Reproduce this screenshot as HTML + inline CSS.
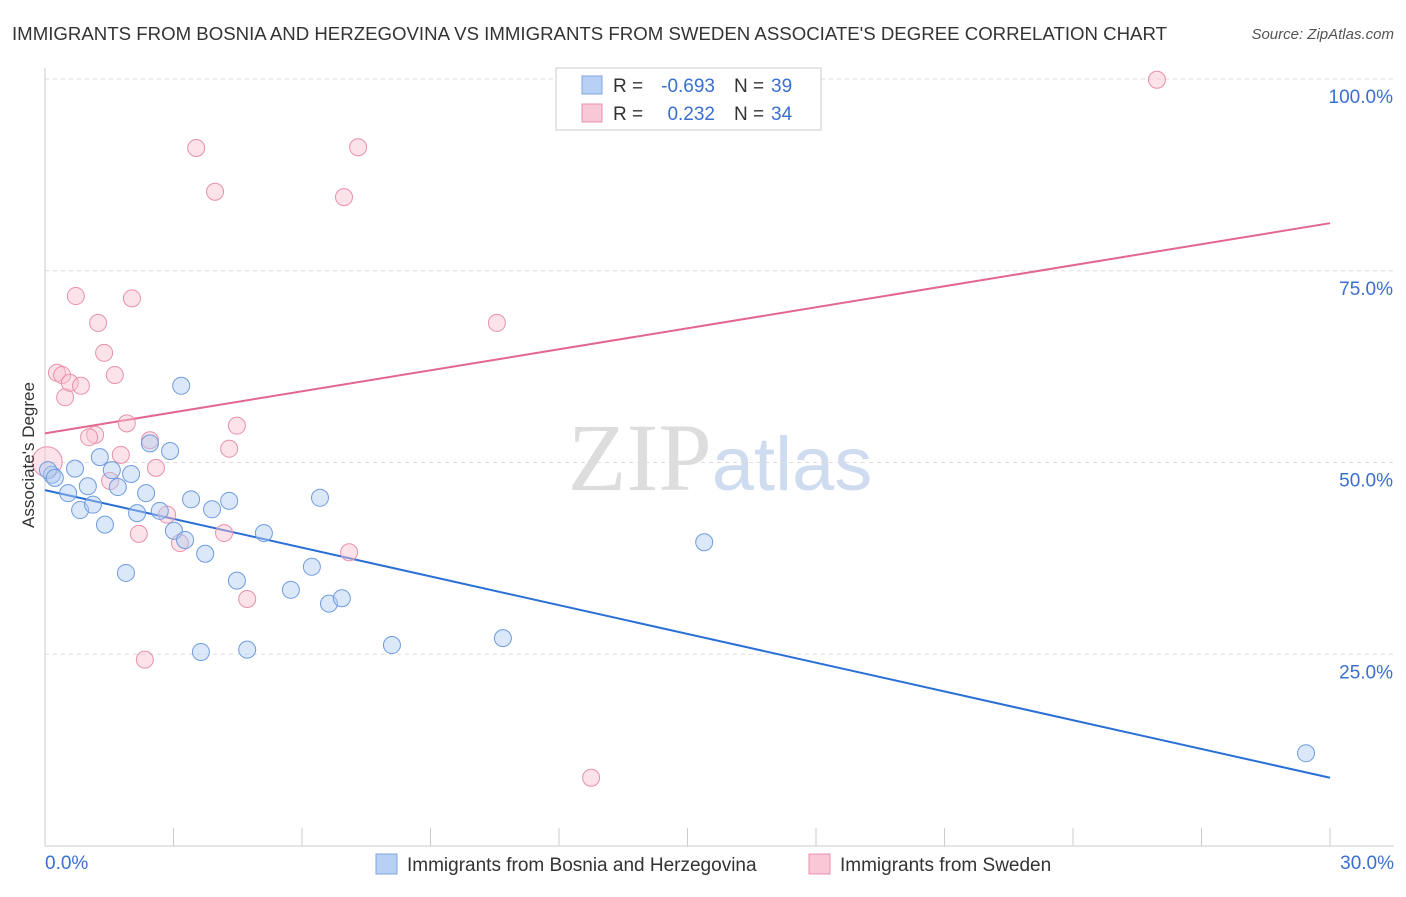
<!DOCTYPE html>
<html><head><meta charset="utf-8"><style>
body{margin:0;background:#fff;font-family:"Liberation Sans",sans-serif;}
</style></head><body>
<svg id="chart" width="1406" height="892" xmlns="http://www.w3.org/2000/svg" font-family="Liberation Sans, sans-serif">
<text x="12" y="40" font-size="18" fill="#333" textLength="1155" lengthAdjust="spacingAndGlyphs">IMMIGRANTS FROM BOSNIA AND HERZEGOVINA VS IMMIGRANTS FROM SWEDEN ASSOCIATE'S DEGREE CORRELATION CHART</text>
<text x="1394" y="39" font-size="15" fill="#555" text-anchor="end" font-style="italic">Source: ZipAtlas.com</text>
<text x="720" y="490" font-size="96" text-anchor="middle" fill="#ddd" font-family="Liberation Serif, serif">ZIP<tspan fill="#cfdcf0" font-family="Liberation Sans, sans-serif" font-size="76">atlas</tspan></text>
<g id="grid"></g><g id="axes"></g><g id="lines"></g><g id="pts"></g>
<text transform="translate(34,455) rotate(-90)" font-size="17" fill="#333" text-anchor="middle">Associate's Degree</text>
<g>
<rect x="556" y="68" width="265" height="62" fill="#fff" stroke="#ccc"/>
<rect x="582" y="76" width="20" height="18" fill="#b8d0f4" stroke="#7fa6e0"/>
<rect x="582" y="104" width="20" height="18" fill="#f8c8d6" stroke="#e890aa"/>
<text x="613" y="92" font-size="19" fill="#333">R =</text>
<text x="715" y="92" font-size="19" fill="#3a6fd0" text-anchor="end">-0.693</text>
<text x="734" y="92" font-size="19" fill="#333">N =</text>
<text x="771" y="92" font-size="19" fill="#3a6fd0">39</text>
<text x="613" y="120" font-size="19" fill="#333">R =</text>
<text x="715" y="120" font-size="19" fill="#3a6fd0" text-anchor="end">0.232</text>
<text x="734" y="120" font-size="19" fill="#333">N =</text>
<text x="771" y="120" font-size="19" fill="#3a6fd0">34</text>
</g>
<g>
<rect x="376" y="854" width="21" height="20" fill="#b8d0f4" stroke="#7fa6e0"/>
<text x="407" y="871" font-size="19" fill="#333">Immigrants from Bosnia and Herzegovina</text>
<rect x="809" y="854" width="21" height="20" fill="#f8c8d6" stroke="#e890aa"/>
<text x="840" y="871" font-size="19" fill="#333">Immigrants from Sweden</text>
</g>
</svg>
<script>
const blueX=[0.16,0.07,0.70,1.00,0.54,0.82,1.12,1.28,1.56,1.70,1.40,2.01,1.89,2.15,2.36,2.45,2.68,2.92,3.01,3.18,3.27,3.41,3.64,3.74,3.90,4.30,4.48,4.72,5.11,5.74,6.23,6.42,6.63,6.93,8.10,10.69,15.39,29.44,0.23];
const blueY=[48.4,49.0,49.2,46.9,46.0,43.8,44.5,50.7,49.0,46.8,41.9,48.5,35.6,43.4,46.0,52.5,43.7,51.5,41.1,60.0,39.9,45.2,25.3,38.1,43.9,45.0,34.6,25.6,40.8,33.4,36.4,45.4,31.6,32.3,26.2,27.1,39.6,12.1,48.0];
const pinkX=[0.05,0.28,0.40,0.47,0.58,0.84,0.72,1.24,1.38,1.63,2.03,1.91,1.17,1.03,1.77,1.52,2.19,2.33,2.45,2.59,2.85,3.15,3.53,3.97,4.30,4.18,4.48,4.72,6.98,7.31,7.10,10.55,12.75,25.96];
const pinkY=[50.1,61.7,61.4,58.5,60.4,60.0,71.7,68.2,64.3,61.4,71.4,55.1,53.6,53.3,51.0,47.6,40.7,24.3,52.9,49.3,43.2,39.5,91.0,85.3,51.8,40.8,54.8,32.2,84.6,91.1,38.3,68.2,8.9,99.9];
const blueTrend=[46.4,8.9];
const pinkTrend=[53.8,81.2];
const yTicks=[25,50,75,100];
const yTickLabels=["25.0%","50.0%","75.0%","100.0%"];
const xTickLabels=["0.0%","30.0%"];
const NS="http://www.w3.org/2000/svg";
const sx=v=>45+v/30*1285, sy=v=>846-v*7.67;
function mk(tag,attrs,parent){const e=document.createElementNS(NS,tag);for(const k in attrs)e.setAttribute(k,attrs[k]);document.getElementById(parent).appendChild(e);return e;}
yTicks.forEach((t,i)=>{
  const g=mk('line',{x1:45,x2:1394,y1:sy(t),y2:sy(t),stroke:'#ddd','stroke-dasharray':'4,4'},'grid');
  
  
  const l=mk('text',{x:1393,y:sy(t)+24,'font-size':19,fill:'#3a6fd0','text-anchor':'end'},'axes');
  l.textContent=yTickLabels[i];
  
  
});
const xa=mk('line',{x1:45,x2:1394,y1:846,y2:846,stroke:'#ccc'},'axes');


const ya=mk('line',{x1:45,x2:45,y1:68,y2:846,stroke:'#ccc'},'axes');


for(let i=0;i<=10;i++){
  const t=mk('line',{x1:sx(i*3),x2:sx(i*3),y1:828,y2:846,stroke:'#ccc'},'axes');
  
  
}
[[0,'start',xTickLabels[0]],[30,'end',xTickLabels[1]]].forEach(([v,a,s])=>{
  const l=mk('text',{x:v===0?45:1394,y:869,'font-size':19,fill:'#3a6fd0','text-anchor':a},'axes');
  l.textContent=s;
  
  
});
function pts(X,Y,fill,stroke,name){
  X.forEach((x,i)=>{
    const c=mk('circle',{cx:sx(x),cy:sy(Y[i]),r:(name==='sweden-point'&&i===0)?15:8.5,fill:fill,'fill-opacity':0.45,stroke:stroke,'stroke-width':1},'pts');
    
    
  });
}
pts(pinkX,pinkY,'#f8c0d0','#e890aa','sweden-point');
pts(blueX,blueY,'#b0ccf2','#6f9be0','bosnia-point');
const bl=mk('line',{x1:sx(0),y1:sy(blueTrend[0]),x2:sx(30),y2:sy(blueTrend[1]),stroke:'#2a6fd6','stroke-width':2},'lines');


const pl=mk('line',{x1:sx(0),y1:sy(pinkTrend[0]),x2:sx(30),y2:sy(pinkTrend[1]),stroke:'#e3668e','stroke-width':2},'lines');


</script>
</body></html>
